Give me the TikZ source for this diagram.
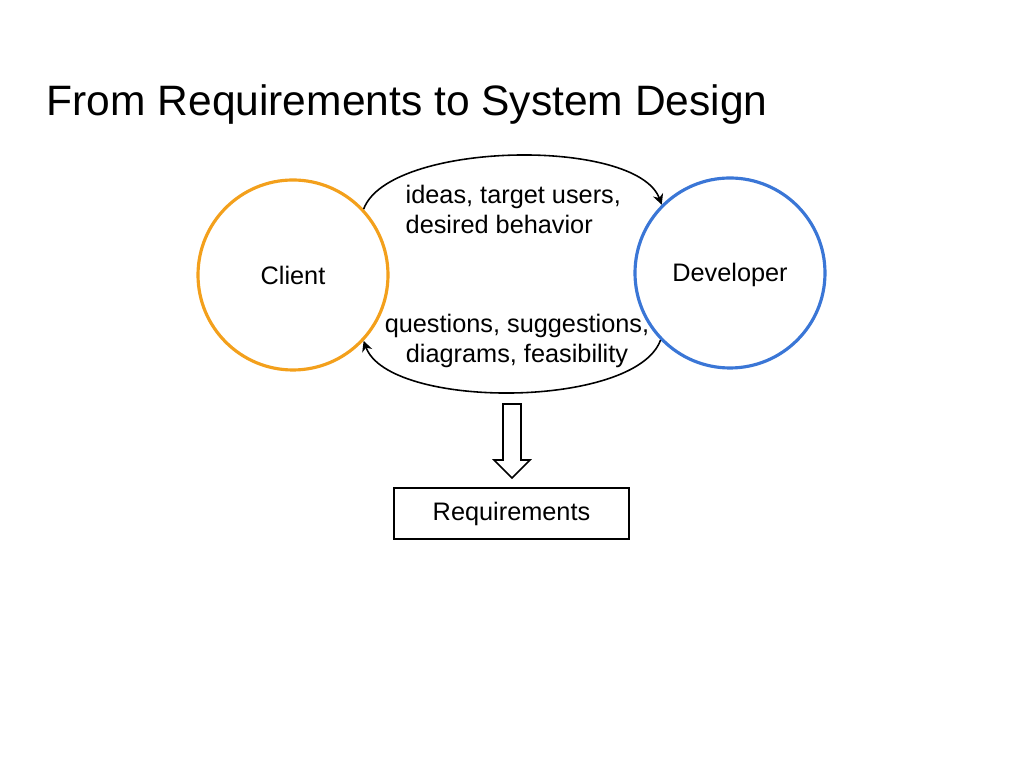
\documentclass[tikz,border=0pt]{standalone}
\usepackage{fontspec}
\setmainfont{Liberation Sans}
\usetikzlibrary{positioning, arrows.meta}
\definecolor{clientorange}{RGB}{243,160,28}
\definecolor{devblue}{RGB}{58,118,214}

\begin{document}
\begin{tikzpicture}[x=1cm, y=1cm,
	party/.style={circle, minimum size=1.9cm, line width=0.9pt, fill=white},
	talk/.style={font=\fontsize{7.2}{8.6}\selectfont},
	loop/.style={-{Stealth[length=3pt,width=3pt]}, line width=0.45pt}]
	\useasboundingbox (0,0) rectangle (10.24,7.68);
	\node[anchor=west, inner sep=0pt, font=\fontsize{12.1}{14}\selectfont] (title) at (0.46,6.63) {From Requirements to System Design};
	
	\node[party, draw=clientorange, talk] (client) at (2.93,4.93) {Client};
	\node[party, draw=devblue, talk] (developer) at (7.30,4.95) {};
	\node[talk] (devname) at (7.30,4.93) {Developer};
	
	\draw[loop] (client.43) .. controls +(0.25,0.68) and +(-0.25,0.68) .. (developer.135);
	\draw[loop] (developer.224) .. controls +(-0.25,-0.69) and +(0.25,-0.69) .. (client.-43);
	
	\node[talk, align=left, anchor=north west, inner sep=0pt] (ideas) at (4.05,5.84) {ideas, target users,\\desired behavior};
	\node[talk, align=center] (questions) at (5.17,4.27) {questions, suggestions,\\diagrams, feasibility};
	
	\draw[line width=0.45pt] (5.03,3.64) -- (5.21,3.64) -- (5.21,3.08) -- (5.30,3.08) -- (5.12,2.90)
		-- (4.94,3.08) -- (5.03,3.08) -- cycle;
	
	\node[draw, line width=0.45pt, minimum width=2.35cm, minimum height=0.51cm, talk] (req) at (5.115,2.545) {Requirements};
\end{tikzpicture}
\end{document}
